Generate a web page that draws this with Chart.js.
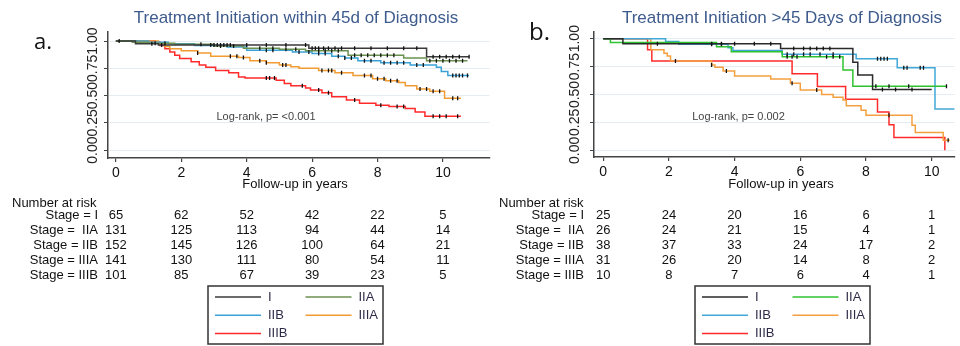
<!DOCTYPE html>
<html>
<head>
<meta charset="utf-8">
<script src="https://cdn.jsdelivr.net/npm/chart.js@4.4.1/dist/chart.umd.min.js"></script>
<style>
  body { margin:0; background:#fff; }
  #wrap { position:relative; width:960px; height:346px; background:#fff; }
  canvas { position:absolute; top:0; }
</style>
</head>
<body>
<div id="wrap">
  <canvas id="chartA" width="495" height="346" style="left:0;"></canvas>
  <canvas id="chartB" width="465" height="346" style="left:495px;"></canvas>
</div>
<script>
// axis ticks
const yearTicks = [0, 2, 4, 6, 8, 10];
const survTicks = [0, 0.25, 0.5, 0.75, 1];
const stageNames = ['I', 'IIA', 'IIB', 'IIIA', 'IIIB'];
const rowLabels = ['Stage = I', 'Stage =  IIA', 'Stage = IIB', 'Stage = IIIA', 'Stage = IIIB'];

// panel a: within 45d (step times / survival)
const a_I_t = [0, 0.6, 1.3, 5.9, 9.5, 10.8];
const a_I_s = [1, 0.975, 0.963, 0.933, 0.855, 0.855];
const a_IIA_t = [0, 0.5, 1.0, 1.8, 3.0, 3.9, 5.0, 5.8, 7.1, 8.8, 9.5, 10.75];
const a_IIA_s = [1, 0.99, 0.98, 0.97, 0.955, 0.935, 0.925, 0.91, 0.87, 0.845, 0.82, 0.82];
const a_IIB_t = [0, 1.0, 1.6, 2.4, 3.4, 4.0, 5.4, 6.0, 6.6, 7.0, 7.4, 8.1, 9.0, 9.8, 9.95, 10.15, 10.8];
const a_IIB_s = [1, 0.99, 0.975, 0.96, 0.945, 0.915, 0.90, 0.885, 0.86, 0.845, 0.82, 0.80, 0.78, 0.76, 0.72, 0.685, 0.685];
const a_IIIA_t = [0, 1.3, 1.5, 1.65, 2.0, 2.5, 2.9, 3.75, 4.1, 4.6, 5.0, 5.35, 5.6, 6.2, 6.7, 7.25, 7.85, 8.25, 8.65, 8.85, 9.2, 9.6, 10.05, 10.55];
const a_IIIA_s = [1, 0.98, 0.95, 0.93, 0.91, 0.89, 0.86, 0.85, 0.82, 0.80, 0.78, 0.765, 0.75, 0.73, 0.71, 0.685, 0.655, 0.635, 0.62, 0.59, 0.56, 0.54, 0.475, 0.475];
const a_IIIB_t = [0, 1.2, 1.35, 1.5, 1.65, 1.8, 1.95, 2.3, 2.55, 2.75, 3.05, 3.45, 3.75, 3.95, 4.9, 5.15, 5.35, 5.8, 5.95, 6.3, 6.6, 7.05, 7.45, 7.95, 8.35, 8.85, 9.15, 9.45, 10.55];
const a_IIIB_s = [1, 0.99, 0.96, 0.93, 0.90, 0.87, 0.84, 0.81, 0.78, 0.76, 0.73, 0.71, 0.67, 0.66, 0.64, 0.61, 0.59, 0.57, 0.55, 0.525, 0.49, 0.46, 0.43, 0.41, 0.40, 0.38, 0.35, 0.31, 0.31];
// censor times, panel a
const a_I_cens = [0.1, 1.1, 1.4, 2.9, 3.0, 3.1, 3.2, 3.3, 3.4, 3.5, 4.0, 4.6, 5.2, 5.8, 6.0, 6.1, 6.2, 6.35, 6.5, 6.7, 6.9, 7.3, 7.8, 8.3, 8.8, 9.2, 9.7, 9.9, 10.1, 10.3, 10.5, 10.8];
const a_IIA_cens = [1.2, 1.5, 2.6, 3.2, 3.6, 4.4, 4.8, 5.2, 5.5, 6.2, 6.4, 6.6, 6.8, 7.3, 7.5, 7.7, 7.9, 8.1, 8.3, 8.5, 9.6, 9.8, 10.0, 10.2, 10.4, 10.6];
const a_IIB_cens = [4.6, 4.8, 5.6, 5.9, 6.2, 6.4, 6.8, 7.0, 7.2, 7.6, 7.8, 8.2, 8.4, 8.6, 8.8, 9.2, 9.4, 10.3, 10.4, 10.5, 10.6, 10.75];
const a_IIIA_cens = [2.5, 3.5, 3.7, 3.9, 4.4, 4.6, 5.1, 5.2, 6.3, 6.5, 6.6, 6.9, 7.6, 7.8, 8.0, 8.2, 8.4, 8.6, 9.3, 9.5, 9.7, 9.9, 10.3, 10.45];
const a_IIIB_cens = [4.6, 4.7, 4.85, 5.7, 6.2, 6.5, 7.3, 8.1, 8.6, 8.8, 9.7, 9.9, 10.1, 10.45];

// panel b: >45 days
const b_I_t = [0, 0.6, 5.4, 7.6, 7.75, 8.2, 10.0];
const b_I_s = [1, 0.955, 0.913, 0.79, 0.675, 0.545, 0.545];
const b_IIA_t = [0, 0.22, 3.45, 3.9, 5.45, 7.3, 7.6, 10.45];
const b_IIA_s = [1, 0.965, 0.928, 0.883, 0.838, 0.72, 0.575, 0.575];
const b_IIB_t = [0, 1.9, 2.3, 3.8, 3.95, 5.45, 7.7, 8.95, 10.1, 10.7];
const b_IIB_s = [1, 0.975, 0.95, 0.92, 0.895, 0.86, 0.82, 0.74, 0.37, 0.37];
const b_IIIA_t = [0, 1.45, 1.85, 1.95, 2.05, 3.3, 3.4, 3.65, 4.0, 5.1, 5.7, 6.0, 6.65, 7.0, 7.3, 7.4, 7.85, 8.0, 9.4, 9.5, 10.35, 10.55];
const b_IIIA_s = [1, 0.90, 0.87, 0.845, 0.80, 0.765, 0.745, 0.71, 0.665, 0.64, 0.60, 0.54, 0.50, 0.475, 0.45, 0.40, 0.36, 0.315, 0.225, 0.16, 0.09, 0.09];
const b_IIIB_t = [0, 1.35, 1.48, 5.75, 6.52, 7.38, 8.35, 8.7, 8.85, 10.4];
const b_IIIB_s = [1, 0.9, 0.8, 0.686, 0.571, 0.457, 0.343, 0.229, 0.114, 0];
// censor times, panel b
const b_I_cens = [1.65, 3.3, 3.6, 4.0, 4.6, 5.1, 5.8, 6.1, 6.3, 6.5, 6.7, 6.9, 8.5, 8.9, 9.4];
const b_IIA_cens = [5.6, 5.75, 5.9, 6.8, 7.0, 7.2, 8.3, 8.7, 9.3, 10.45];
const b_IIB_cens = [3.3, 3.6, 5.6, 5.8, 6.1, 6.3, 6.6, 7.0, 8.35, 8.45, 8.55, 8.65, 9.15, 9.25, 9.65, 9.75];
const b_IIIA_cens = [2.2, 3.3, 3.75, 5.75, 6.5, 8.7, 10.5];
const b_IIIB_cens = [];

// number at risk
const riskA_I = [65, 62, 52, 42, 22, 5];
const riskA_IIA = [131, 125, 113, 94, 44, 14];
const riskA_IIB = [152, 145, 126, 100, 64, 21];
const riskA_IIIA = [141, 130, 111, 80, 54, 11];
const riskA_IIIB = [101, 85, 67, 39, 23, 5];
const riskB_I = [25, 24, 20, 16, 6, 1];
const riskB_IIA = [26, 24, 21, 15, 4, 1];
const riskB_IIB = [38, 37, 33, 24, 17, 2];
const riskB_IIIA = [31, 26, 20, 14, 8, 2];
const riskB_IIIB = [10, 8, 7, 6, 4, 1];

const FONT = '"Liberation Sans", Arial, sans-serif';

function survAt(t, ts, ss) {
  let v = ss[0];
  for (let i = 0; i < ts.length; i++) if (ts[i] <= t) v = ss[i];
  return v;
}

function curveSet(ts, ss, color) {
  return {
    data: ts.map((t, i) => ({ x: t, y: ss[i] })),
    stepped: 'before',
    borderColor: color,
    borderWidth: 1.5,
    pointRadius: 0,
    fill: false
  };
}

function censorSet(cens, ts, ss) {
  return {
    data: cens.map(t => ({ x: t, y: survAt(t, ts, ss) })),
    showLine: false,
    pointStyle: 'line',
    rotation: 90,
    pointRadius: 2,
    borderColor: '#111',
    borderWidth: 1.3
  };
}

// titles, rotated y labels, risk table and legend box
const kmDecor = {
  id: 'kmDecor',
  afterDraw(chart, args, o) {
    const ctx = chart.ctx;
    const xs = chart.scales.x, ys = chart.scales.y;
    ctx.save();
    ctx.textBaseline = 'middle';

    ctx.fillStyle = '#3e5b8d';
    ctx.textAlign = 'center';
    ctx.font = '17px ' + FONT;
    ctx.fillText(o.title, o.titleX, 18);

    ctx.fillStyle = '#111';
    ctx.textAlign = 'left';
    ctx.textBaseline = 'alphabetic';
    ctx.font = o.letterSize + 'px "Open Sans", ' + FONT;
    ctx.fillText(o.letter, o.letterX, o.letterY);
    ctx.textBaseline = 'middle';

    // y tick labels, rotated
    ctx.font = '14px ' + FONT;
    ctx.fillStyle = '#222';
    ctx.textAlign = 'center';
    survTicks.forEach(v => {
      ctx.save();
      ctx.translate(o.yLabelX, ys.getPixelForValue(v));
      ctx.rotate(-Math.PI / 2);
      ctx.fillText(v.toFixed(2), 0, 0);
      ctx.restore();
    });

    ctx.font = '11px ' + FONT;
    ctx.fillStyle = '#444';
    ctx.fillText(o.logrank, o.logrankX, 117);

    ctx.font = '13px ' + FONT;
    ctx.fillStyle = '#111';
    ctx.fillText('Follow-up in years', o.axisTitleX, 184);

    // risk table
    ctx.textAlign = 'left';
    ctx.fillText('Number at risk', o.riskX, 203);
    o.risk.forEach((row, r) => {
      const yy = 215 + r * 15;
      ctx.textAlign = 'right';
      ctx.fillText(rowLabels[r], o.rowLabelRight, yy);
      ctx.textAlign = 'center';
      row.forEach((n, j) => ctx.fillText(String(n), xs.getPixelForValue(yearTicks[j]), yy));
    });

    // legend box
    const L = o.legend;
    ctx.strokeStyle = '#333';
    ctx.lineWidth = 1.5;
    ctx.strokeRect(L.x, 286, 175, 58);
    ctx.textAlign = 'left';
    ctx.font = '13px ' + FONT;
    stageNames.forEach((name, i) => {
      const col = i % 2, row = Math.floor(i / 2);
      const lx = L.x + 7 + col * 90.5;
      const ly = 297 + row * 18.3;
      ctx.strokeStyle = o.colors[i];
      ctx.lineWidth = 1.5;
      ctx.beginPath();
      ctx.moveTo(lx, ly);
      ctx.lineTo(lx + 46, ly);
      ctx.stroke();
      ctx.fillStyle = '#2e2b48';
      ctx.fillText(name, lx + 53, ly);
    });
    ctx.restore();
  }
};

function makeChart(id, p) {
  const datasets = [];
  p.curves.forEach(c => datasets.push(censorSet(c.cens, c.t, c.s)));
  p.curves.forEach((c, i) => datasets.push(curveSet(c.t, c.s, p.colors[i])));
  return new Chart(document.getElementById(id), {
    type: 'line',
    data: { datasets },
    plugins: [kmDecor],
    options: {
      responsive: false,
      animation: false,
      events: [],
      layout: { padding: { left: 0, right: 0, top: p.top, bottom: 346 - p.bottom - 30 } },
      scales: {
        x: {
          type: 'linear', min: p.xMin, max: p.xMax,
          afterBuildTicks: s => { s.ticks = yearTicks.map(v => ({ value: v })); },
          afterFit: s => { s.height = 30; },
          grid: { drawOnChartArea: false, tickLength: 4, tickColor: '#444', lineWidth: 1.2 },
          border: { color: '#444', width: 1.5 },
          ticks: { color: '#111', font: { family: FONT, size: 14 }, padding: 3, maxRotation: 0 }
        },
        y: {
          type: 'linear', min: p.yMin, max: p.yMax,
          afterBuildTicks: s => { s.ticks = survTicks.map(v => ({ value: v })); },
          afterFit: s => { s.width = p.left; },
          grid: { color: '#e3edf2', lineWidth: 1, tickLength: 4, tickColor: '#444' },
          border: { color: '#444', width: 1.5 },
          ticks: { display: false }
        }
      },
      plugins: {
        legend: { display: false },
        tooltip: { enabled: false },
        kmDecor: p.decor
      }
    }
  });
}

const colorsA = ['#3a3a3a', '#6b9150', '#3aa2d6', '#f29b32', '#ff2b2b'];
const colorsB = ['#2a2a2a', '#2fc22f', '#41a8d8', '#f5a040', '#ff2b2b'];

makeChart('chartA', {
  top: 32, bottom: 158, left: 108,
  xMin: -0.241, xMax: 11.43, yMin: -0.073, yMax: 1.083,
  colors: colorsA,
  curves: [
    { t: a_I_t, s: a_I_s, cens: a_I_cens },
    { t: a_IIA_t, s: a_IIA_s, cens: a_IIA_cens },
    { t: a_IIB_t, s: a_IIB_s, cens: a_IIB_cens },
    { t: a_IIIA_t, s: a_IIIA_s, cens: a_IIIA_cens },
    { t: a_IIIB_t, s: a_IIIB_s, cens: a_IIIB_cens }
  ],
  decor: {
    title: 'Treatment Initiation within 45d of Diagnosis', titleX: 296,
    letter: 'a.', letterX: 34, letterY: 49, letterSize: 22,
    yLabelX: 93,
    logrank: 'Log-rank, p= <0.001', logrankX: 266,
    axisTitleX: 295,
    riskX: 12, rowLabelRight: 98,
    risk: [riskA_I, riskA_IIA, riskA_IIB, riskA_IIIA, riskA_IIIB],
    legend: { x: 208 },
    colors: colorsA
  }
});

makeChart('chartB', {
  top: 32, bottom: 157, left: 99,
  xMin: -0.28, xMax: 10.7, yMin: -0.06, yMax: 1.06,
  colors: colorsB,
  curves: [
    { t: b_I_t, s: b_I_s, cens: b_I_cens },
    { t: b_IIA_t, s: b_IIA_s, cens: b_IIA_cens },
    { t: b_IIB_t, s: b_IIB_s, cens: b_IIB_cens },
    { t: b_IIIA_t, s: b_IIIA_s, cens: b_IIIA_cens },
    { t: b_IIIB_t, s: b_IIIB_s, cens: b_IIIB_cens }
  ],
  decor: {
    title: 'Treatment Initiation >45 Days of Diagnosis', titleX: 287,
    letter: 'b.', letterX: 34, letterY: 40, letterSize: 24,
    yLabelX: 80.5,
    logrank: 'Log-rank, p= 0.002', logrankX: 243.5,
    axisTitleX: 286,
    riskX: 4, rowLabelRight: 89,
    risk: [riskB_I, riskB_IIA, riskB_IIB, riskB_IIIA, riskB_IIIB],
    legend: { x: 200 },
    colors: colorsB
  }
});
</script>
</body>
</html>
